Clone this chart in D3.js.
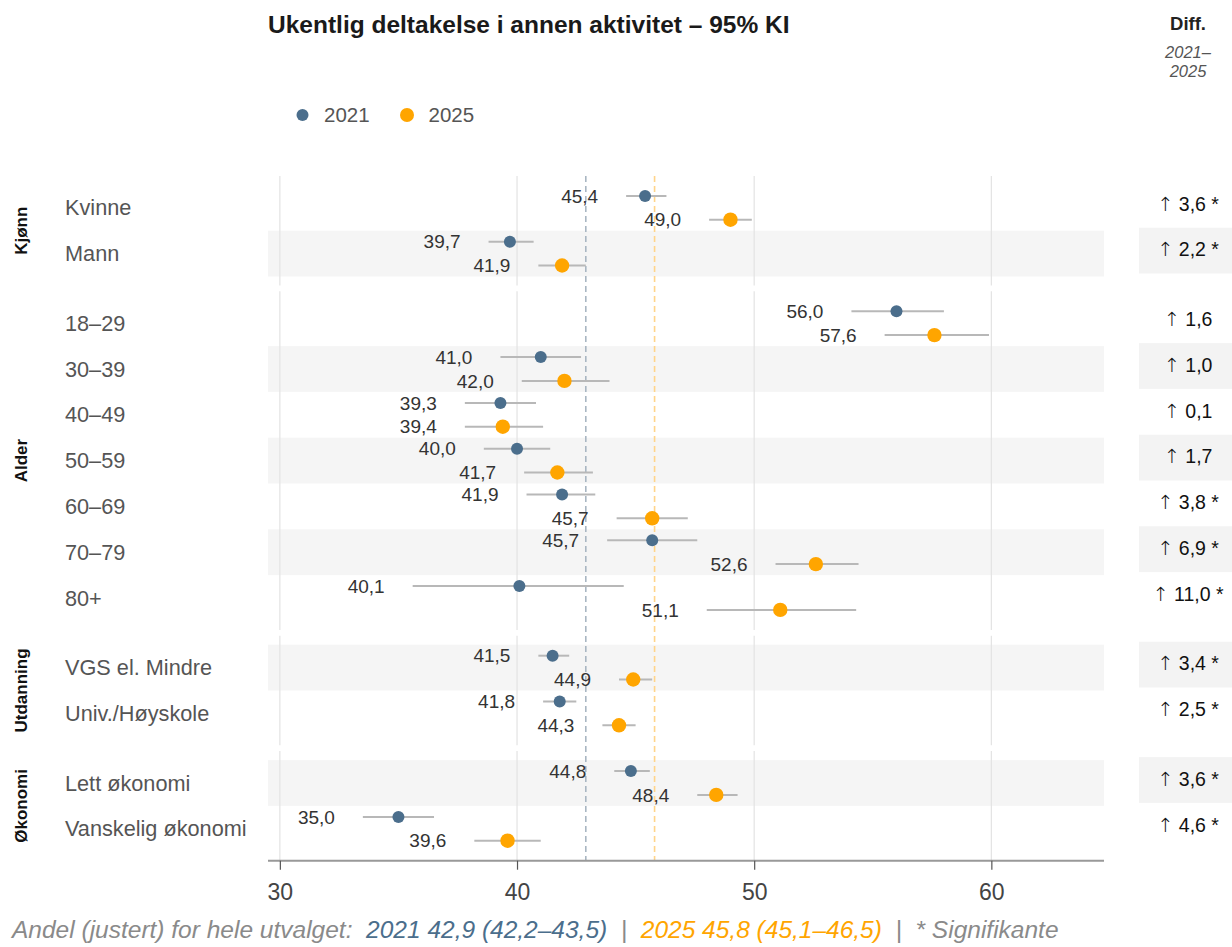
<!DOCTYPE html>
<html>
<head>
<meta charset="utf-8">
<script src="https://cdn.jsdelivr.net/npm/d3@7"></script>
<style>
  html, body { margin: 0; padding: 0; background: #fff; }
  svg { display: block; font-family: "Liberation Sans", Arial, sans-serif; }
</style>
</head>
<body>
<svg id="chart" width="1232" height="947"></svg>
<script>
// ---- Data ----
const groups = ["Kjønn", "Alder", "Utdanning", "Økonomi"];
const categories = ["Kvinne", "Mann", "18–29", "30–39", "40–49", "50–59", "60–69", "70–79", "80+",
  "VGS el. Mindre", "Univ./Høyskole", "Lett økonomi", "Vanskelig økonomi"];
const categoryGroup = [0, 0, 1, 1, 1, 1, 1, 1, 1, 2, 2, 3, 3];
const val2021 = [45.4, 39.7, 56.0, 41.0, 39.3, 40.0, 41.9, 45.7, 40.1, 41.5, 41.8, 44.8, 35.0];
const lo2021  = [44.6, 38.8, 54.1, 39.3, 37.8, 38.6, 40.4, 43.8, 35.6, 40.9, 41.1, 44.1, 33.5];
const hi2021  = [46.3, 40.7, 58.0, 42.7, 40.8, 41.4, 43.3, 47.6, 44.5, 42.2, 42.5, 45.6, 36.5];
const val2025 = [49.0, 41.9, 57.6, 42.0, 39.4, 41.7, 45.7, 52.6, 51.1, 44.9, 44.3, 48.4, 39.6];
const lo2025  = [48.1, 40.9, 55.5, 40.2, 37.8, 40.3, 44.2, 50.9, 48.0, 44.3, 43.6, 47.6, 38.2];
const hi2025  = [49.9, 42.9, 59.9, 43.9, 41.1, 43.2, 47.2, 54.4, 54.3, 45.7, 45.0, 49.3, 41.0];
const diffValues = ["3,6", "2,2", "1,6", "1,0", "0,1", "1,7", "3,8", "6,9", "11,0", "3,4", "2,5", "3,6", "4,6"];
const diffSignificant = [true, true, false, false, false, false, true, true, true, true, true, true, true];
const overall2021 = 42.9, overall2025 = 45.8;
const xTicks = [30, 40, 50, 60];
const years = ["2021", "2025"];
const footerParts = [
  {text: "Andel (justert) for hele utvalget:  ", cls: "grey"},
  {text: "2021 42,9 (42,2–43,5)", cls: "c2021"},
  {text: "  |  ", cls: "grey"},
  {text: "2025 45,8 (45,1–46,5)", cls: "c2025"},
  {text: "  |  * Signifikante", cls: "grey"}
];

// ---- Style ----
const C2021 = "#4b6e8c", C2025 = "#ffa500";
const fmt = v => d3.format(".1f")(v).replace(".", ",");

const svg = d3.select("#chart");
const plotLeft = 268, plotRight = 1104;
const rowH = 45.8, gapH = 23.8, plotTop = 184.9, gpad = 9;

const x = d3.scaleLinear().domain([29.5, 64.75]).range([plotLeft, plotRight]);
const slot = i => i + categoryGroup[i] * (gapH / rowH);
const y = d3.scaleLinear().domain([0, 1]).range([plotTop, plotTop + rowH]);

const rows = categories.map((c, i) => ({
  cat: c, i, g: categoryGroup[i],
  v1: val2021[i], l1: lo2021[i], h1: hi2021[i],
  v2: val2025[i], l2: lo2025[i], h2: hi2025[i],
  diff: diffValues[i], sig: diffSignificant[i]
}));

const groupExt = groups.map((g, gi) => {
  const idx = rows.filter(r => r.g === gi).map(r => r.i);
  const t = y(slot(d3.min(idx)));
  const b = y(slot(d3.max(idx)) + 1);
  return {name: g, t, b};
});

// shaded bands
rows.forEach(r => {
  if (r.i % 2 === 1) {
    svg.append("rect").attr("x", plotLeft).attr("y", y(slot(r.i)))
      .attr("width", plotRight - plotLeft).attr("height", rowH).attr("fill", "#f5f5f5");
    svg.append("rect").attr("x", 1139).attr("y", y(slot(r.i)) - 3)
      .attr("width", 1232 - 1139).attr("height", rowH).attr("fill", "#f3f3f3");
  }
});

// gridlines per group
groupExt.forEach(ge => {
  svg.selectAll(null).data(xTicks).enter().append("line")
    .attr("x1", d => x(d)).attr("x2", d => x(d))
    .attr("y1", ge.t - gpad).attr("y2", ge.b + gpad)
    .attr("stroke", "#e3e3e3").attr("stroke-width", 1.2);
});

// reference lines
const refTop = groupExt[0].t - gpad, refBot = groupExt[3].b + gpad;
svg.append("line").attr("x1", x(overall2021)).attr("x2", x(overall2021))
  .attr("y1", refTop).attr("y2", refBot)
  .attr("stroke", "#a9b6c2").attr("stroke-width", 1.6).attr("stroke-dasharray", "6,4");
svg.append("line").attr("x1", x(overall2025)).attr("x2", x(overall2025))
  .attr("y1", refTop).attr("y2", refBot)
  .attr("stroke", "#ffd48a").attr("stroke-width", 1.6).attr("stroke-dasharray", "6,4");

// CI lines + points + labels
const series = [
  {key: "1", off: 0.24, color: C2021, r: 6},
  {key: "2", off: 0.76, color: C2025, r: 7.2}
];
series.forEach(s => {
  const g = svg.append("g");
  g.selectAll("line.ci").data(rows).enter().append("line")
    .attr("x1", d => x(d["l" + s.key])).attr("x2", d => x(d["h" + s.key]))
    .attr("y1", d => y(slot(d.i) + s.off)).attr("y2", d => y(slot(d.i) + s.off))
    .attr("stroke", "#b8b8b8").attr("stroke-width", 2);
  g.selectAll("circle").data(rows).enter().append("circle")
    .attr("cx", d => x(d["v" + s.key])).attr("cy", d => y(slot(d.i) + s.off))
    .attr("r", s.r).attr("fill", s.color);
  g.selectAll("text").data(rows).enter().append("text")
    .attr("x", d => x(d["l" + s.key]) - 28).attr("y", d => y(slot(d.i) + s.off))
    .attr("dy", "0.35em").attr("text-anchor", "end")
    .attr("font-size", 19).attr("fill", "#333")
    .text(d => fmt(d["v" + s.key]));
});

// row labels
svg.selectAll("text.rowlab").data(rows).enter().append("text")
  .attr("class", "rowlab")
  .attr("x", 65).attr("y", d => y(slot(d.i) + 0.5)).attr("dy", "0.35em")
  .attr("font-size", 21.7).attr("fill", "#555").text(d => d.cat);

// group labels
groupExt.forEach(ge => {
  const cy = (ge.t + ge.b) / 2;
  svg.append("text").attr("transform", `translate(27,${cy}) rotate(-90)`)
    .attr("text-anchor", "middle").attr("font-size", 17).attr("font-weight", "bold")
    .attr("fill", "#111").text(ge.name);
});

// diff column
const dt = svg.selectAll("text.diff").data(rows).enter().append("text")
  .attr("class", "diff")
  .attr("x", 1188).attr("y", d => y(slot(d.i) + 0.5) - 4).attr("dy", "0.35em")
  .attr("text-anchor", "middle").attr("font-size", 19.5).attr("fill", "#111");
dt.append("tspan").attr("font-family", "'DejaVu Sans', sans-serif").attr("font-weight", "200")
  .attr("fill", "#111").text("↑");
dt.append("tspan").attr("fill", "#111").text(d => " " + d.diff + (d.sig ? " *" : ""));

svg.append("text").attr("x", 1188).attr("y", 30).attr("text-anchor", "middle")
  .attr("font-size", 18.5).attr("font-weight", "bold").attr("fill", "#222").text("Diff.");
svg.append("text").attr("x", 1188).attr("y", 58).attr("text-anchor", "middle")
  .attr("font-size", 16.5).attr("font-style", "italic").attr("fill", "#555").text("2021–");
svg.append("text").attr("x", 1188).attr("y", 77).attr("text-anchor", "middle")
  .attr("font-size", 16.5).attr("font-style", "italic").attr("fill", "#555").text("2025");

// title
svg.append("text").attr("x", 268).attr("y", 33).attr("font-size", 24.5)
  .attr("font-weight", "bold").attr("fill", "#1a1a1a")
  .text("Ukentlig deltakelse i annen aktivitet – 95% KI");

// legend
const leg = svg.append("g");
[{lab: years[0], c: C2021, r: 6, cx: 302.5}, {lab: years[1], c: C2025, r: 7, cx: 407}].forEach(l => {
  leg.append("circle").attr("cx", l.cx).attr("cy", 115).attr("r", l.r).attr("fill", l.c);
  leg.append("text").attr("x", l.cx + 21.5).attr("y", 122)
    .attr("font-size", 20.5).attr("fill", "#555").text(l.lab);
});

// axis
const axisY = groupExt[3].b + gpad;
const axis = d3.axisBottom(x).tickValues(xTicks).tickSize(9).tickPadding(14).tickFormat(d3.format("d"));
const ag = svg.append("g").attr("transform", `translate(0,${axisY})`).call(axis);
ag.select(".domain").attr("stroke", "#999").attr("stroke-width", 2)
  .attr("d", `M${plotLeft},0H${plotRight}`);
ag.selectAll(".tick line").attr("stroke", "#555").attr("stroke-width", 1.2);
ag.selectAll(".tick text").attr("font-size", 23).attr("fill", "#444")
  .attr("font-family", "'Liberation Sans', Arial, sans-serif");

// footer
const colors = {grey: "#8a8a8a", c2021: "#4b6e8c", c2025: "#ffa500"};
const ft = svg.append("text").attr("x", 12).attr("y", 938).attr("font-size", 24.5)
  .attr("font-style", "italic").style("white-space", "pre");
footerParts.forEach(p => ft.append("tspan").attr("fill", colors[p.cls]).text(p.text));
</script>
</body>
</html>
